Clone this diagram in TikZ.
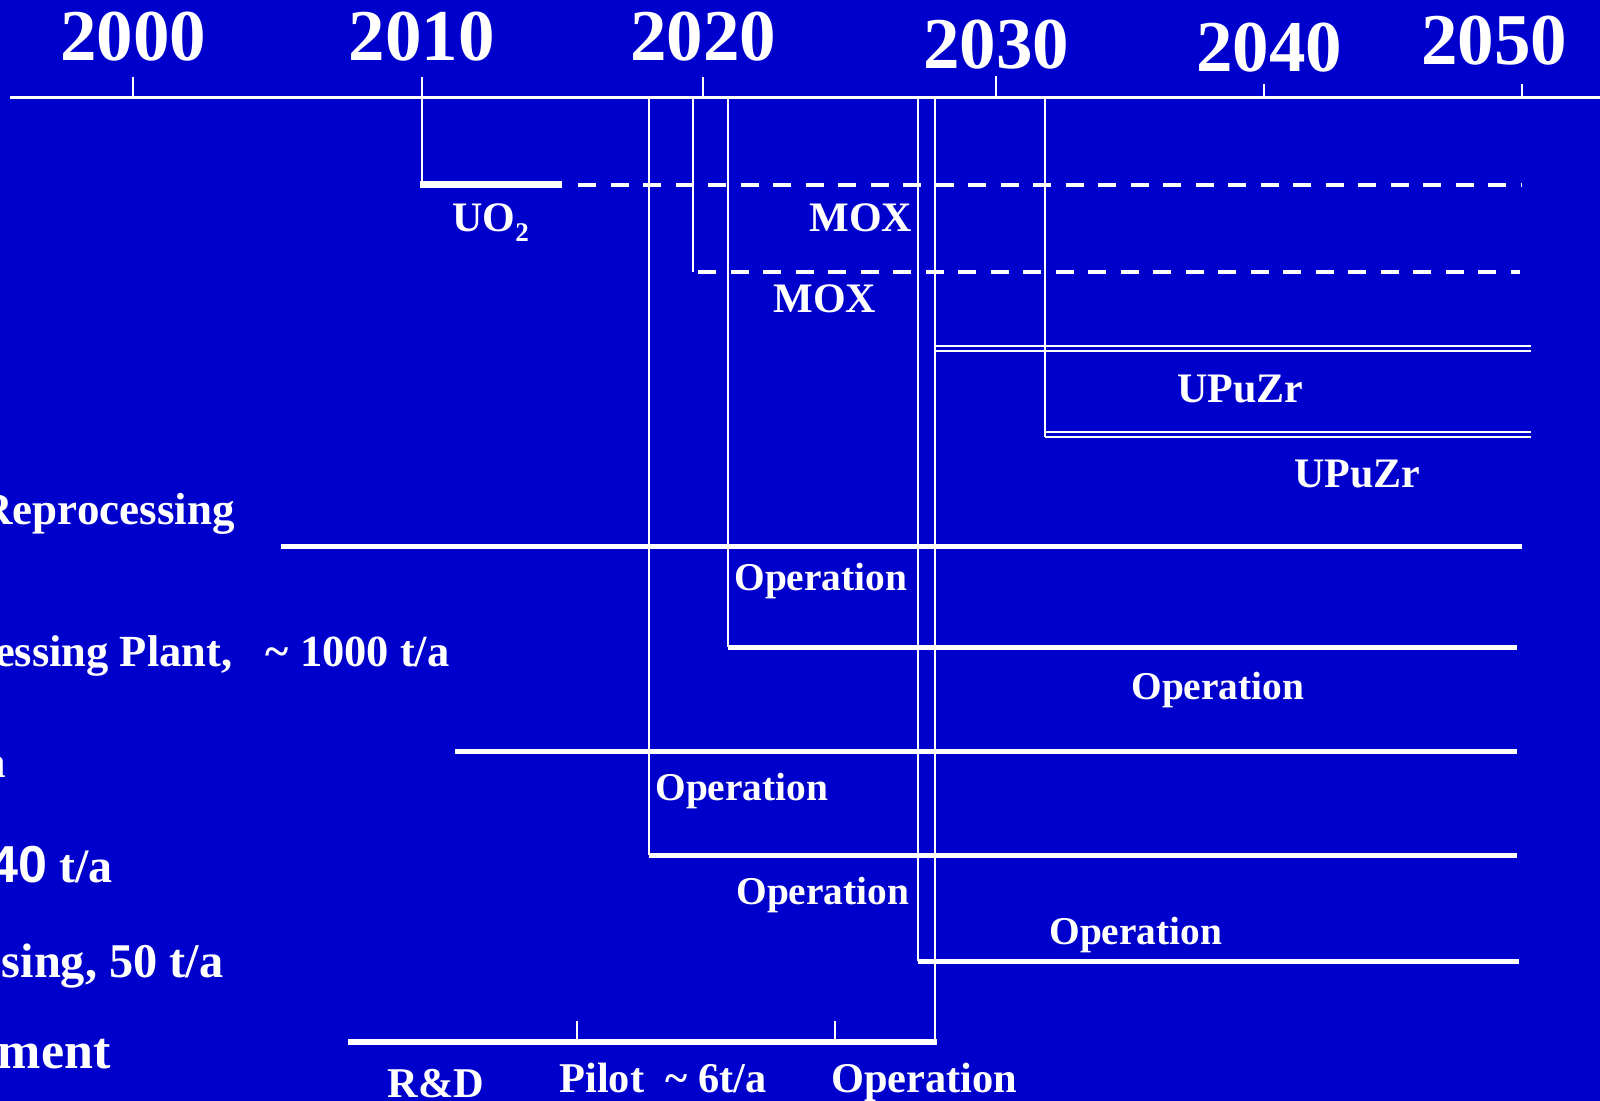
\documentclass[tikz,border=0pt]{standalone}
\usepackage{fontspec}
\setmainfont{Liberation Serif}
\newfontfamily\sansf{Liberation Sans}
\definecolor{bgblue}{RGB}{0,0,204}
\tikzset{
  txt/.style={text=white, inner sep=0pt},
  yr/.style={txt, anchor=base, font=\fontsize{36.5}{40}\selectfont\bfseries},
  lbl/.style={txt, anchor=base west, font=\fontsize{21}{24}\selectfont\bfseries},
  oplbl/.style={txt, anchor=base west, font=\fontsize{19.7}{22}\selectfont\bfseries},
  botlbl/.style={txt, anchor=base west, font=\fontsize{21.2}{24}\selectfont\bfseries},
  side/.style={txt, anchor=base east, font=\fontsize{22.5}{26}\selectfont\bfseries},
  axisline/.style={draw=white, line width=1.75pt},
  thinline/.style={draw=white, line width=1pt},
  heavyline/.style={draw=white, line width=2.5pt},
  barline/.style={draw=white, line width=3.5pt},
  dashline/.style={draw=white, line width=2.3pt, dash pattern=on 9pt off 7.25pt},
  dblline/.style={draw=white, line width=1pt},
}
\begin{document}
\begin{tikzpicture}[x=0.5pt,y=-0.5pt]
\useasboundingbox (0,0) rectangle (1600,1101);
\fill[bgblue] (0,0) rectangle (1600,1101);

% year labels
\node[yr] (y2000) at (133,61) {2000};
\node[yr] (y2010) at (421.5,61) {2010};
\node[yr] (y2020) at (703,61) {2020};
\node[yr] (y2030) at (996,69) {2030};
\node[yr] (y2040) at (1269,72) {2040};
\node[yr] (y2050) at (1494,65) {2050};

% axis and ticks
\draw[axisline] (10,97.5) -- (1600,97.5);
\draw[thinline] (133,77) -- (133,97);
\draw[thinline] (421.5,77) -- (421.5,97);
\draw[thinline] (703,77) -- (703,97);
\draw[thinline] (996,76) -- (996,97);
\draw[thinline] (1264,84) -- (1264,97);
\draw[thinline] (1522,84) -- (1522,97);

% vertical drop lines
\draw[thinline] (421.5,97) -- (421.5,185);
\draw[thinline] (649,97) -- (649,855);
\draw[thinline] (693,97) -- (693,272);
\draw[thinline] (728,97) -- (728,647);
\draw[thinline] (918,97) -- (918,961);
\draw[thinline] (935,97) -- (935,1042);
\draw[thinline] (1045,97) -- (1045,436.5);

% fuel rows
\draw[barline] (420,184.5) -- (562,184.5);
\draw[dashline] (578,185) -- (1522,185);
\draw[dashline] (698,272) -- (1520,272);
\draw[dblline] (935,346) -- (1531,346);
\draw[dblline] (935,351.5) -- (1531,351.5);
\draw[dblline] (1045,431.5) -- (1531,431.5);
\draw[dblline] (1045,436.5) -- (1531,436.5);

% reprocessing rows
\draw[heavyline] (281,546) -- (1522,546);
\draw[heavyline] (728,647) -- (1517,647);
\draw[heavyline] (455,751) -- (1517,751);
\draw[heavyline] (649,855) -- (1517,855);
\draw[heavyline] (918,961) -- (1519,961);
\draw[draw=white, line width=3pt] (348,1042) -- (937,1042);
\draw[thinline] (577,1021) -- (577,1042);
\draw[thinline] (835,1021) -- (835,1042);

% labels
\node[lbl] (uo2) at (452,232) {UO\raisebox{-5pt}{\fontsize{13.5}{14}\selectfont 2}};
\node[lbl] (mox1) at (809,232) {MOX};
\node[lbl] (mox2) at (773,313) {MOX};
\node[lbl] (upuzr1) at (1177,402) {UPuZr};
\node[lbl] (upuzr2) at (1294,487) {UPuZr};

\node[oplbl] (op1) at (734,590) {Operation};
\node[oplbl] (op2) at (1131,699) {Operation};
\node[oplbl] (op3) at (655,800) {Operation};
\node[oplbl] (op4) at (736,904) {Operation};
\node[oplbl] (op5) at (1049,944) {Operation};

\node[botlbl] (rd) at (387,1097) {R\&D};
\node[botlbl] (pilot) at (559,1092) {Pilot\ \ \textasciitilde\ 6t/a};
\node[botlbl] (opb) at (831,1092) {Operation};

% left side texts (cut off by the page edge)
\node[side] (s1) at (235,524) {Reprocessing};
\node[side, font=\fontsize{22.25}{26}\selectfont\bfseries] (s2) at (450,666) {essing Plant,\ \ \ \textasciitilde\ 1000 t/a};
\node[side] (s3) at (6,777) {a};
\node[side, font=\fontsize{24}{28}\selectfont\bfseries] (s4) at (113,882) {{\sansf\fontsize{26}{30}\selectfont 40} t/a};
\node[side, font=\fontsize{24.2}{28}\selectfont\bfseries] (s5) at (224,977) {sing, 50 t/a};
\node[side, font=\fontsize{26}{30}\selectfont\bfseries] (s6) at (111,1068) {ment};
\end{tikzpicture}
\end{document}
